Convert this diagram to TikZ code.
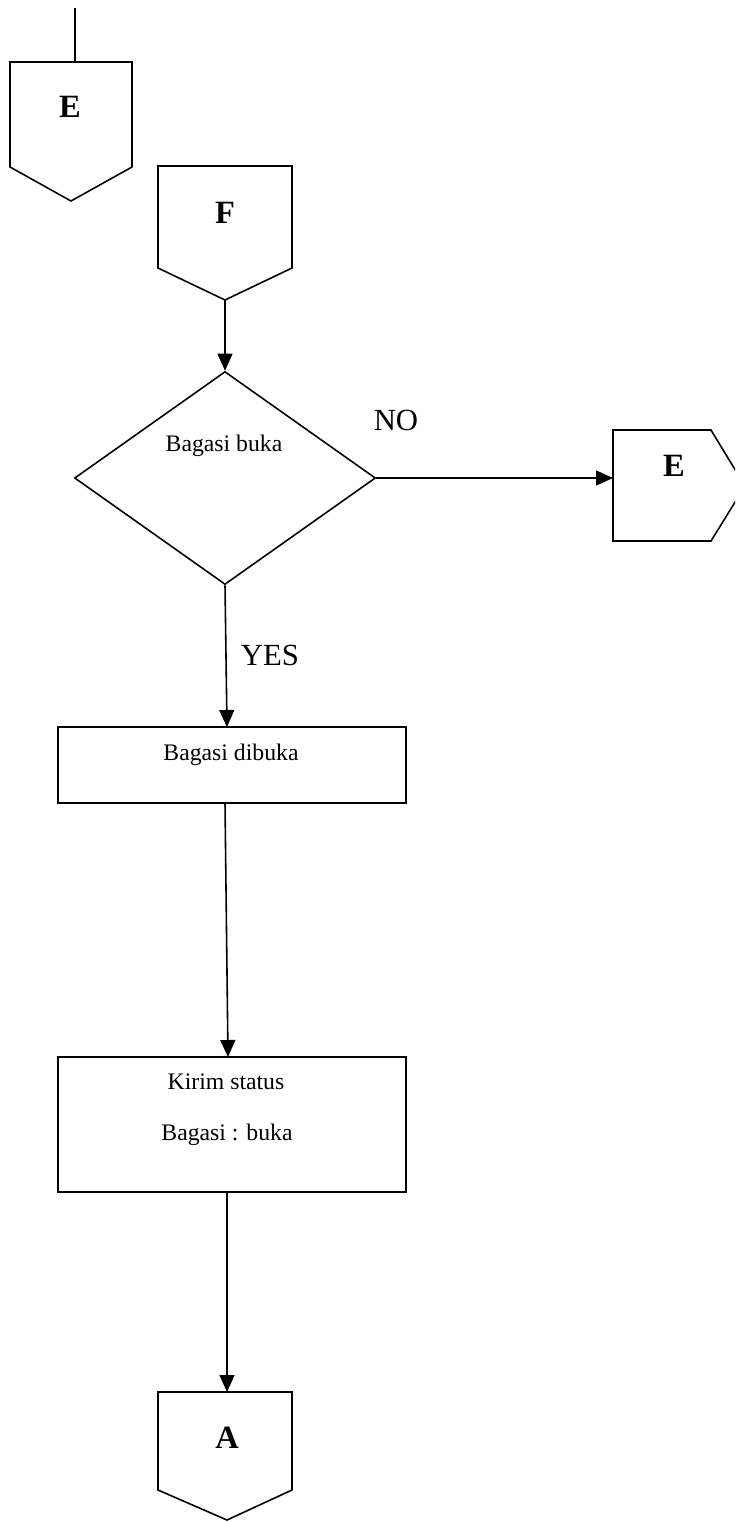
\documentclass[tikz,border=0pt]{standalone}
\usepackage{fontspec}
\setmainfont{Liberation Serif}
\usetikzlibrary{shapes.geometric,arrows.meta}

\begin{document}
\begin{tikzpicture}[x=0.02cm,y=-0.02cm,line width=0.9pt,
    arr/.style={-{Triangle[length=3.4mm,width=3mm]}},
    box/.style={draw,rectangle,inner sep=0pt},
    small/.style={font=\fontsize{13.5}{16}\selectfont},
    big/.style={font=\fontsize{17.5}{20}\selectfont},
    letter/.style={font=\fontsize{18.5}{20}\selectfont\bfseries}]
      \useasboundingbox (0,0) rectangle (735,1522);
      \clip (0,0) rectangle (735,1522);
      %E (top)
      \coordinate (ein) at (75,8);
      \coordinate (etop) at (75,62);
      \draw (10,62) -- (132,62) -- (132,167) -- (71,201) -- (10,167) -- cycle;
      \node[letter] (e1) at (70,107) {E};
      \draw (ein) -- (etop);
      %F
      \draw (158,166) -- (292,166) -- (292,268) -- (225,300) -- (158,268) -- cycle;
      \node[letter] (f) at (225,213) {F};
      \coordinate (fout) at (225,300);
      %decision
      \node[draw,diamond,inner sep=0pt,minimum width=301*0.02cm,minimum height=213*0.02cm] (cek) at (225,478) {};
      \node[small] (cektxt) at (224,446) {Bagasi buka};
      \draw[arr] (fout) -- (cek.north);
      %E (right)
      \draw (613,430) -- (711,430) -- (745,486) -- (711,541) -- (613,541) -- cycle;
      \node[letter] (e2) at (674,466) {E};
      \coordinate (e2in) at (613,478);
      \draw[arr] (cek.east) -- (e2in);
      \node[big] (no) at (396,420) {NO};
      %process
      \node[box,minimum width=348*0.02cm,minimum height=76*0.02cm] (buka) at (232,765) {};
      \node[small] (bukatxt) at (231,755) {Bagasi dibuka};
      \coordinate (bukain) at (227,727);
      \coordinate (bukaout) at (225,803);
      \draw[arr] (cek.south) -- (bukain);
      \node[big] (yes) at (270,655) {YES};
      \node[box,minimum width=348*0.02cm,minimum height=135*0.02cm] (kirim) at (232,1124.5) {};
      \node[small] (kirimtxt) at (226,1082) {Kirim status};
      \node[small] (statustxt) at (227,1135) {Bagasi : buka};
      \coordinate (kirimin) at (228,1057);
      \coordinate (kirimout) at (227,1192);
      \draw[arr] (bukaout) -- (kirimin);
      %A
      \coordinate (ain) at (227,1392);
      \draw (158,1392) -- (292,1392) -- (292,1490) -- (227,1520) -- (158,1490) -- cycle;
      \node[letter] (a) at (227,1438) {A};
      \draw[arr] (kirimout) -- (ain);
    \end{tikzpicture}
\end{document}
